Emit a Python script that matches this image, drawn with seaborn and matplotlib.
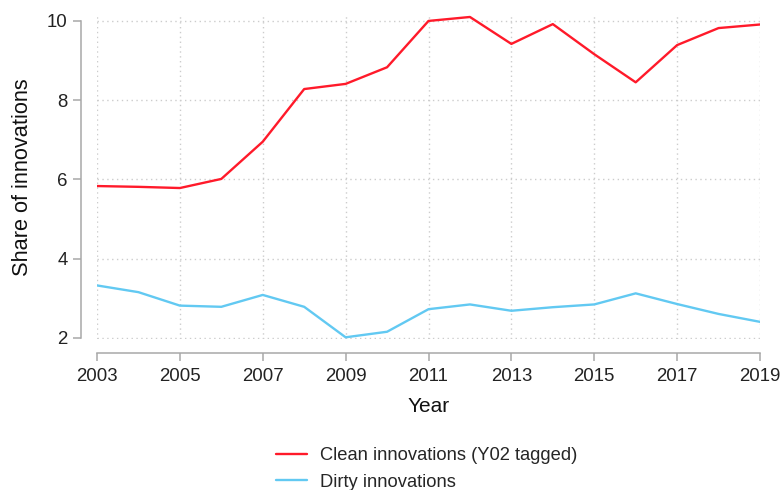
import pandas as pd
import matplotlib
matplotlib.use('Agg')
import matplotlib.pyplot as plt
import seaborn as sns

# Data
years = list(range(2003, 2020))
clean = [5.83, 5.81, 5.78, 6.01, 6.95, 8.28, 8.41, 8.83, 10.0, 10.1,
         9.42, 9.92, 9.16, 8.45, 9.39, 9.82, 9.91]
dirty = [3.32, 3.15, 2.81, 2.78, 3.08, 2.78, 2.01, 2.15, 2.72, 2.84,
         2.68, 2.77, 2.84, 3.12, 2.85, 2.60, 2.40]
labels = ['Clean innovations (Y02 tagged)', 'Dirty innovations']
xticks = list(range(2003, 2020, 2))
yticks = [2, 4, 6, 8, 10]

df = pd.DataFrame({
    'Year': years * 2,
    'share': clean + dirty,
    'series': [labels[0]] * len(years) + [labels[1]] * len(years),
})

sns.set_style('white')
plt.rcParams['font.family'] = ['Liberation Sans', 'DejaVu Sans']

fig = plt.figure(figsize=(7.81, 4.9), dpi=100)
ax = fig.add_axes([97 / 781, 1 - 339 / 490, 663 / 781, 324 / 490])

palette = {labels[0]: '#ff1a2a', labels[1]: '#62c9f2'}
sns.lineplot(data=df, x='Year', y='share', hue='series', palette=palette,
             linewidth=1.7, ax=ax, legend=True)

ax.set_xlim(2003, 2019)
ax.set_ylim(1.967, 10.15)
ax.set_xticks(xticks)
ax.set_yticks(yticks)
ax.grid(True, color='#cccccc', linestyle=(0, (1, 2.5)), linewidth=1.0)

for s in ['top', 'right']:
    ax.spines[s].set_visible(False)
ax.spines['left'].set_position(('outward', 11.5))
ax.spines['bottom'].set_position(('outward', 10))
ax.spines['left'].set_bounds(2, 10)
ax.spines['bottom'].set_bounds(2003, 2019)
for s in ['left', 'bottom']:
    ax.spines[s].set_color('#a8a8a8')
    ax.spines[s].set_linewidth(1.1)

ax.tick_params(axis='both', length=5.8, width=1.1, color='#a8a8a8',
               labelsize=13.4, labelcolor='#222222', direction='out',
               left=True, bottom=True)
ax.tick_params(axis='y', pad=4)
ax.tick_params(axis='x', pad=5)

ax.set_xlabel('Year', fontsize=15, color='#111111', labelpad=9)
ax.set_ylabel('Share of innovations', fontsize=15.7, color='#111111', labelpad=10)

handles, lbls = ax.get_legend_handles_labels()
ax.legend_.remove()
fig.legend(handles, lbls, loc='center left', bbox_to_anchor=(276 / 781, 1 - 469 / 490),
           frameon=False, fontsize=13.2, borderpad=0, borderaxespad=0,
           handlelength=1.7, handletextpad=0.7, labelspacing=0.52)

fig.savefig('out.png', dpi=100)
